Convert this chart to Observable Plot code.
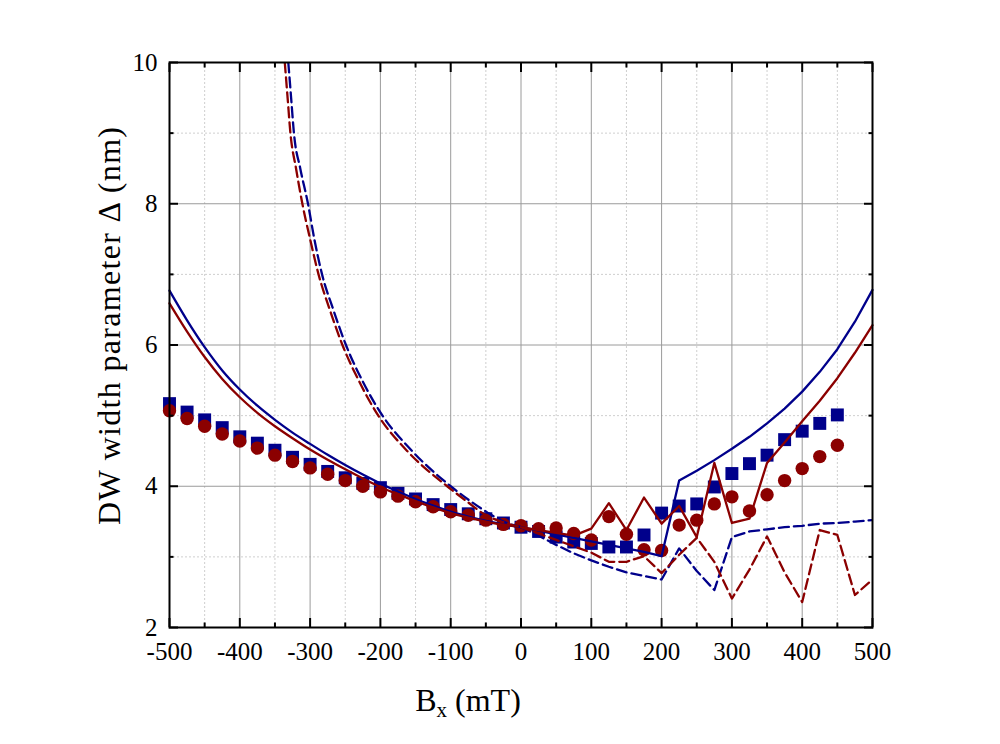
<!DOCTYPE html>
<html>
<head>
<meta charset="utf-8">
<script src="https://cdn.jsdelivr.net/npm/d3@7"></script>
<script src="https://cdn.jsdelivr.net/npm/@observablehq/plot@0.6"></script>
<style>
  html, body { margin: 0; padding: 0; background: #fff; }
  svg { display: block; }
  svg text, svg g[aria-label$="tick label"] text { font-family: "Liberation Serif", "Times New Roman", serif !important; }
</style>
</head>
<body>
<script>
// ---- Data ----
const markerX = [-500,-475,-450,-425,-400,-375,-350,-325,-300,-275,-250,-225,-200,-175,-150,-125,-100,-75,-50,-25,0,25,50,75,100,125,150,175,200,225,250,275,300,325,350,375,400,425,450];
const squaresBlue = [5.17,5.05,4.94,4.83,4.70,4.61,4.51,4.41,4.31,4.21,4.12,4.04,3.98,3.90,3.82,3.74,3.67,3.61,3.54,3.48,3.42,3.36,3.28,3.21,3.19,3.14,3.14,3.31,3.62,3.72,3.75,3.99,4.18,4.32,4.44,4.66,4.78,4.89,5.01];
const circlesRed = [5.07,4.96,4.85,4.74,4.64,4.54,4.44,4.35,4.26,4.17,4.08,4.00,3.92,3.86,3.78,3.71,3.64,3.59,3.52,3.46,3.44,3.40,3.41,3.33,3.24,3.57,3.32,3.10,3.09,3.45,3.52,3.75,3.85,3.65,3.88,4.08,4.25,4.42,4.58];

const lineX = [-500,-475,-450,-425,-400,-375,-350,-325,-300,-275,-250,-225,-200,-175,-150,-125,-100,-75,-50,-25,0,25,50,75,100,125,150,175,200,225,250,275,300,325,350,375,400,425,450,475,500];
const solidBlue = [6.77,6.35,5.97,5.64,5.37,5.14,4.94,4.76,4.60,4.445,4.30,4.165,4.04,3.925,3.82,3.725,3.64,3.57,3.51,3.46,3.42,3.37,3.32,3.27,3.22,3.17,3.12,3.07,3.01,4.08,4.22,4.37,4.53,4.70,4.89,5.10,5.34,5.62,5.94,6.33,6.78];
const solidRed = [6.59,6.19,5.83,5.52,5.26,5.04,4.85,4.68,4.52,4.375,4.24,4.11,3.99,3.885,3.79,3.70,3.62,3.555,3.50,3.455,3.42,3.38,3.34,3.30,3.40,3.76,3.38,3.84,3.47,3.72,3.28,4.33,3.48,3.54,4.33,4.62,4.92,5.21,5.53,5.89,6.28];

const dashBlueX = [-331,-327,-323,-314,-303,-294,-283,-267,-249,-226,-197,-155,-100,-72,-48,-25,0,25,50,75,100,125,150,175,200,225,250,275,300,325,350,375,400,425,450,475,500];
const dashBlueY = [10,9.5,9,8.5,8,7.5,7,6.5,6,5.5,5,4.5,4,3.79,3.63,3.50,3.42,3.30,3.17,3.05,2.95,2.86,2.78,2.73,2.68,3.12,2.80,2.53,3.28,3.36,3.39,3.42,3.44,3.47,3.48,3.50,3.52];
const dashRedX = [-336,-332,-328,-320,-311,-300,-288,-272,-254,-231,-203,-162,-105,-75,-50,-25,0,25,50,75,100,125,150,175,200,225,250,275,300,325,350,375,400,425,450,475,500];
const dashRedY = [10,9.5,9,8.5,8,7.5,7,6.5,6,5.5,5,4.5,4,3.77,3.59,3.49,3.42,3.33,3.24,3.15,3.06,2.93,2.93,3.01,2.77,3.03,3.27,2.93,2.41,2.82,3.29,2.78,2.36,3.38,3.31,2.46,2.68];

const xMajor = [-500,-400,-300,-200,-100,0,100,200,300,400,500];
const xMinor = [-450,-350,-250,-150,-50,50,150,250,350,450];
const yMajor = [2,4,6,8,10];
const yMinor = [3,5,7,9];

// ---- tables ----
const blue = "#00008b", red = "#8b0000";
const pts = (xs, ys) => xs.map((x, i) => ({x, y: ys[i]}));
const squares = pts(markerX, squaresBlue);
const circles = pts(markerX, circlesRed);
const sBlue = pts(lineX, solidBlue), sRed = pts(lineX, solidRed);
const dBlue = pts(dashBlueX, dashBlueY), dRed = pts(dashRedX, dashRedY);
const left = a => a.filter(d => d.x <= 0), right = a => a.filter(d => d.x >= 0);

const font = "Liberation Serif";
const dash = "10,5";
const lw = 2.3;

const tickAxis = (k, data, anchor, size) =>
  (k === "x" ? Plot.axisX : Plot.axisY)(data, {anchor, tickSize: size, strokeWidth: 2, tickFormat: () => "", label: null});

const chart = Plot.plot({
  width: 1000,
  height: 744,
  marginLeft: 169,
  marginRight: 128,
  marginTop: 62,
  marginBottom: 117,
  style: {fontFamily: font, background: "#fff", color: "#000"},
  x: {domain: [-500, 500]},
  y: {domain: [2, 10]},
  marks: [
    Plot.ruleX(xMinor, {stroke: "#cfcfcf", strokeDasharray: "2,2"}),
    Plot.ruleY(yMinor, {stroke: "#cfcfcf", strokeDasharray: "2,2"}),
    Plot.ruleX(xMajor, {stroke: "#9a9a9a"}),
    Plot.ruleY(yMajor, {stroke: "#9a9a9a"}),
    Plot.dot(squares, {x: "x", y: "y", symbol: "square", r: 7.3, fill: blue}),
    Plot.dot(circles, {x: "x", y: "y", symbol: "circle", r: 6.7, fill: red}),
    Plot.line(left(sBlue), {x: "x", y: "y", stroke: blue, strokeWidth: lw, curve: "monotone-x"}),
    Plot.line(right(sBlue), {x: "x", y: "y", stroke: blue, strokeWidth: lw}),
    Plot.line(left(sRed), {x: "x", y: "y", stroke: red, strokeWidth: lw, curve: "monotone-x"}),
    Plot.line(right(sRed), {x: "x", y: "y", stroke: red, strokeWidth: lw}),
    Plot.line(left(dBlue), {x: "x", y: "y", stroke: blue, strokeWidth: lw, strokeDasharray: dash, curve: "monotone-x", clip: true}),
    Plot.line(right(dBlue), {x: "x", y: "y", stroke: blue, strokeWidth: lw, strokeDasharray: dash, clip: true}),
    Plot.line(left(dRed), {x: "x", y: "y", stroke: red, strokeWidth: lw, strokeDasharray: dash, curve: "monotone-x", clip: true}),
    Plot.line(right(dRed), {x: "x", y: "y", stroke: red, strokeWidth: lw, strokeDasharray: dash, clip: true}),
    // tick labels
    Plot.axisX(xMajor, {anchor: "bottom", tickSize: 0, tickPadding: 15, tickFormat: d => String(d), fontSize: 25, fontFamily: font, fontVariant: "normal", label: null}),
    Plot.axisY(yMajor, {anchor: "left", tickSize: 0, tickPadding: 12, tickFormat: d => String(d), fontSize: 25, fontFamily: font, fontVariant: "normal", label: null}),
    // inward ticks on all four sides
    tickAxis("x", xMajor, "bottom", -9),
    tickAxis("x", xMinor, "bottom", -4.5),
    tickAxis("x", xMajor, "top", -9),
    tickAxis("x", xMinor, "top", -4.5),
    tickAxis("y", yMajor, "left", -9),
    tickAxis("y", yMinor, "left", -4.5),
    tickAxis("y", yMajor, "right", -9),
    tickAxis("y", yMinor, "right", -4.5),
    Plot.frame({stroke: "#000", strokeWidth: 2})
  ]
});

document.body.appendChild(chart);

// axis titles
const svg = d3.select(chart);
svg.append("text")
  .attr("transform", "translate(120,326) rotate(-90)")
  .attr("text-anchor", "middle")
  .attr("font-size", 32)
  .attr("fill", "#000")
  .attr("textLength", 398)
  .attr("lengthAdjust", "spacing")
  .text("DW width parameter Δ (nm)");

const xl = svg.append("text")
  .attr("x", 468)
  .attr("y", 711)
  .attr("font-size", 32)
  .attr("fill", "#000");
xl.append("tspan").text("B");
xl.append("tspan").attr("font-size", 21).attr("dy", 6).text("x");
xl.append("tspan").attr("dy", -6).text(" (mT)");
</script>
</body>
</html>
